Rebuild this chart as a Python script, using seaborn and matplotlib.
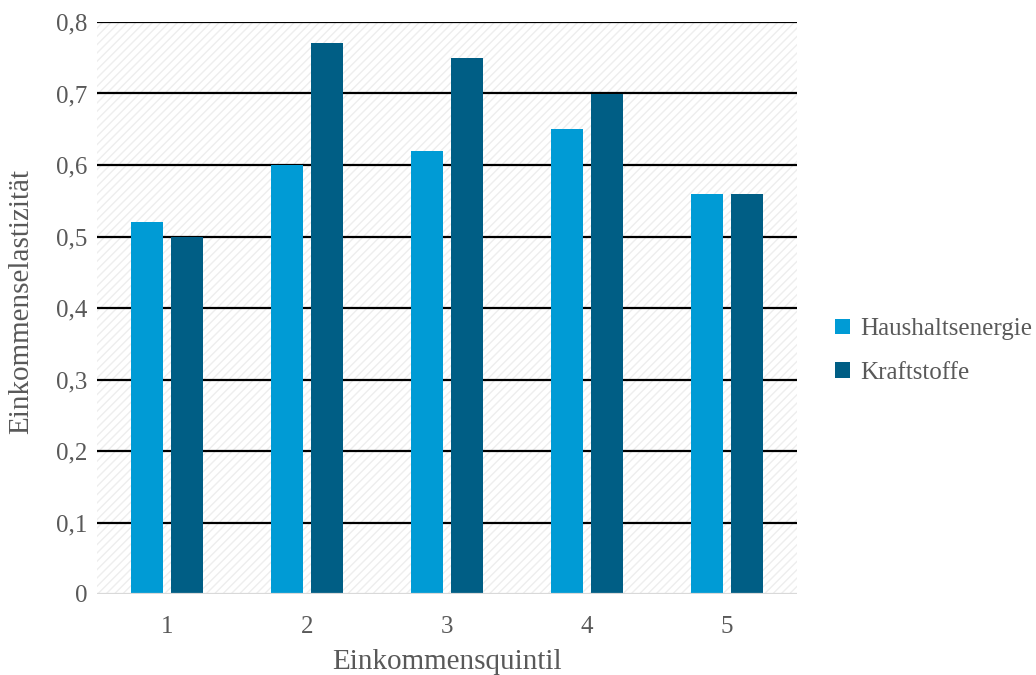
import numpy as np
import pandas as pd
import matplotlib
matplotlib.use("Agg")
import matplotlib.pyplot as plt
import matplotlib.patches as mpatches
from matplotlib.ticker import FuncFormatter
import seaborn as sns

# Data
quintile = ["1", "2", "3", "4", "5"]
haushaltsenergie = [0.52, 0.60, 0.62, 0.65, 0.56]
kraftstoffe = [0.50, 0.77, 0.75, 0.70, 0.56]
series_names = ["Haushaltsenergie", "Kraftstoffe"]
colors = ["#009BD5", "#005E85"]

df = pd.DataFrame({
    "Einkommensquintil": quintile * 2,
    "wert": haushaltsenergie + kraftstoffe,
    "serie": [series_names[0]] * len(quintile) + [series_names[1]] * len(quintile),
})

sns.set_theme(style="white")
plt.rcParams["font.family"] = ["Liberation Serif", "DejaVu Serif"]
plt.rcParams["hatch.linewidth"] = 1.0
plt.rcParams["hatch.color"] = "#eeeeee"
text_col = "#595959"

fig = plt.figure(figsize=(10.36, 6.75), dpi=100)
ax = fig.add_axes([97 / 1036, 1 - 594 / 675, 700 / 1036, 572 / 675])

# hatched plot area background
ax.add_patch(mpatches.Rectangle((0, 0), 1, 1, transform=ax.transAxes,
                                facecolor="white", edgecolor="#eeeeee",
                                hatch="////", lw=0, zorder=0))

sns.barplot(data=df, x="Einkommensquintil", y="wert", hue="serie",
            palette=colors, width=0.571, gap=0.2, ax=ax,
            saturation=1, zorder=3, legend=True, linewidth=0)

ax.set_ylim(0, 0.8)
ax.set_xlim(-0.5, 4.5)
ax.set_yticks(np.arange(0, 0.81, 0.1))
ax.yaxis.set_major_formatter(FuncFormatter(
    lambda v, p: "0" if abs(v) < 1e-9 else f"{v:.1f}".replace(".", ",")))

for y in np.arange(0.1, 0.81, 0.1):
    ax.axhline(y, color="black", lw=1.6, zorder=2)
ax.axhline(0, color="#d9d9d9", lw=1.6, zorder=4)

for s in ax.spines.values():
    s.set_visible(False)
ax.tick_params(axis="both", length=0, labelsize=18, colors=text_col)
ax.tick_params(axis="y", pad=7)
ax.tick_params(axis="x", pad=16)
ax.set_xlabel("Einkommensquintil", fontsize=21, color=text_col, labelpad=8)
ax.set_ylabel("Einkommenselastizität", fontsize=21, color=text_col)
ax.yaxis.set_label_coords(-0.09, 0.512)

ax.legend(loc="center left", bbox_to_anchor=(1.04, 0.425), frameon=False,
          fontsize=18, labelcolor=text_col, handlelength=0.6, handleheight=0.6,
          handletextpad=0.4, labelspacing=0.85, borderaxespad=0)

fig.savefig("out.png", dpi=100)
